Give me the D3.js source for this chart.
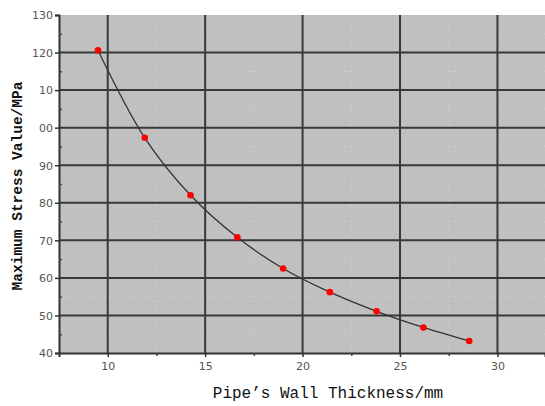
<!DOCTYPE html>
<html>
<head>
	<meta charset="UTF-8">
	<title>Stress vs wall thickness</title>
	<style>
		body { margin: 0; background: #fff; }
		.tick-label { font-family: "DejaVu Sans", sans-serif; font-size: 11px; fill: #555; }
		.title { font-family: "Liberation Mono", "DejaVu Sans Mono", monospace; fill: #111; }
	</style>
</head>
<body>
<script src="https://d3js.org/d3.v7.min.js"></script>
<script type="text/javascript">

'use strict';

// data
var thickness = [9.5, 11.9, 14.25, 16.65, 19.0, 21.4, 23.8, 26.2, 28.55];
var stress = [120.6, 97.3, 82.0, 70.8, 62.5, 56.2, 51.1, 46.8, 43.2];
var xTicks = [10, 15, 20, 25, 30];
var yTicks = [40, 50, 60, 70, 80, 90, 100, 110, 120, 130];
var yTickLabels = ["40", "50", "60", "70", "80", "90", "00", "10", "120", "130"];

var W = 545, H = 406;
var margin = {top: 15, right: 0, bottom: 53, left: 59};

var svg = d3.select("body").append("svg")
	.attr("width", W)
	.attr("height", H);

var x = d3.scaleLinear().domain([7.5, 32.44]).range([margin.left, W - margin.right]);
var y = d3.scaleLinear().domain([40, 130]).range([H - margin.bottom, margin.top]);

// plot background
svg.append("rect")
	.attr("x", margin.left)
	.attr("y", margin.top)
	.attr("width", W - margin.right - margin.left)
	.attr("height", H - margin.bottom - margin.top)
	.attr("fill", "#c0c0c0");

// faint minor lines
var grid = svg.append("g");
grid.selectAll("line.vminor")
	.data(d3.range(7.5, 32.6, 2.5).filter(function(d){ return d % 5 !== 0; }))
	.enter().append("line")
		.attr("x1", function(d){ return x(d); })
		.attr("x2", function(d){ return x(d); })
		.attr("y1", y(130)).attr("y2", y(40))
		.attr("stroke", "#cbcbcb")
		.attr("stroke-dasharray", "2,3")
		.attr("stroke-width", 1);

grid.selectAll("line.hminor")
	.data(d3.range(45, 130, 10))
	.enter().append("line")
		.attr("y1", function(d){ return y(d); })
		.attr("y2", function(d){ return y(d); })
		.attr("x1", x.range()[0]).attr("x2", x.range()[1])
		.attr("stroke", "#cbcbcb")
		.attr("stroke-dasharray", "2,3")
		.attr("stroke-width", 1);

// major grid
grid.selectAll("line.v")
	.data(xTicks)
	.enter().append("line")
		.attr("x1", function(d){ return x(d); })
		.attr("x2", function(d){ return x(d); })
		.attr("y1", y(130)).attr("y2", y(40))
		.attr("stroke", "#383838")
		.attr("stroke-width", 2);

grid.selectAll("line.h")
	.data(yTicks.slice(1, -1))
	.enter().append("line")
		.attr("y1", function(d){ return y(d); })
		.attr("y2", function(d){ return y(d); })
		.attr("x1", x.range()[0]).attr("x2", x.range()[1])
		.attr("stroke", "#383838")
		.attr("stroke-width", 2);

// axes
var yAxis = d3.axisLeft(y)
	.tickValues(yTicks)
	.tickSize(4)
	.tickFormat(function(d, i){ return yTickLabels[i]; });

var gy = svg.append("g")
	.attr("transform", "translate(" + margin.left + ",0)")
	.call(yAxis);
gy.select(".domain").attr("stroke", "#333").attr("stroke-width", 2);
gy.selectAll(".tick line").attr("stroke", "#333").attr("stroke-width", 1.5);
gy.selectAll(".tick text").attr("class", "tick-label").attr("x", -6).attr("dy", "0.35em");

var yMinor = d3.axisRight(y).tickValues(d3.range(45, 130, 10)).tickSize(3).tickFormat("");
var gym = svg.append("g").attr("transform", "translate(" + margin.left + ",0)").call(yMinor);
gym.select(".domain").remove();
gym.selectAll(".tick line").attr("stroke", "#444").attr("stroke-width", 1.5);

var xAxis = d3.axisBottom(x)
	.tickValues(xTicks)
	.tickSize(4)
	.tickPadding(5);

var gx = svg.append("g")
	.attr("transform", "translate(0," + (H - margin.bottom) + ")")
	.call(xAxis);
gx.select(".domain").attr("stroke", "#333").attr("stroke-width", 2);
gx.selectAll(".tick line").attr("stroke", "#333").attr("stroke-width", 1.5);
gx.selectAll(".tick text").attr("class", "tick-label");

var xMinor = d3.axisBottom(x).tickValues([12.5, 17.5, 22.5, 27.5]).tickSize(3).tickFormat("");
var gxm = svg.append("g").attr("transform", "translate(0," + (H - margin.bottom) + ")").call(xMinor);
gxm.select(".domain").remove();
gxm.selectAll(".tick line").attr("stroke", "#444").attr("stroke-width", 1.5);

// curve
var pts = thickness.map(function(d, i){ return [d, stress[i]]; });
var line = d3.line()
	.x(function(d){ return x(d[0]); })
	.y(function(d){ return y(d[1]); })
	.curve(d3.curveCatmullRom);

svg.append("path")
	.datum(pts)
	.attr("d", line)
	.attr("fill", "none")
	.attr("stroke", "#333")
	.attr("stroke-width", 1.3);

svg.selectAll("circle.pt")
	.data(pts)
	.enter().append("circle")
		.attr("cx", function(d){ return x(d[0]); })
		.attr("cy", function(d){ return y(d[1]); })
		.attr("r", 3.3)
		.attr("fill", "#ff0000");

// titles
svg.append("text")
	.attr("class", "title")
	.attr("x", 328)
	.attr("y", 398)
	.attr("text-anchor", "middle")
	.style("font-size", "16px")
	.text("Pipe\u2019s Wall Thickness/mm");

svg.append("text")
	.attr("class", "title")
	.attr("transform", "translate(22," + 186 + ") rotate(-90)")
	.attr("text-anchor", "middle")
	.style("font-size", "14.5px")
	.style("font-weight", "bold")
	.text("Maximum Stress Value/MPa");

</script>
</body>
</html>
